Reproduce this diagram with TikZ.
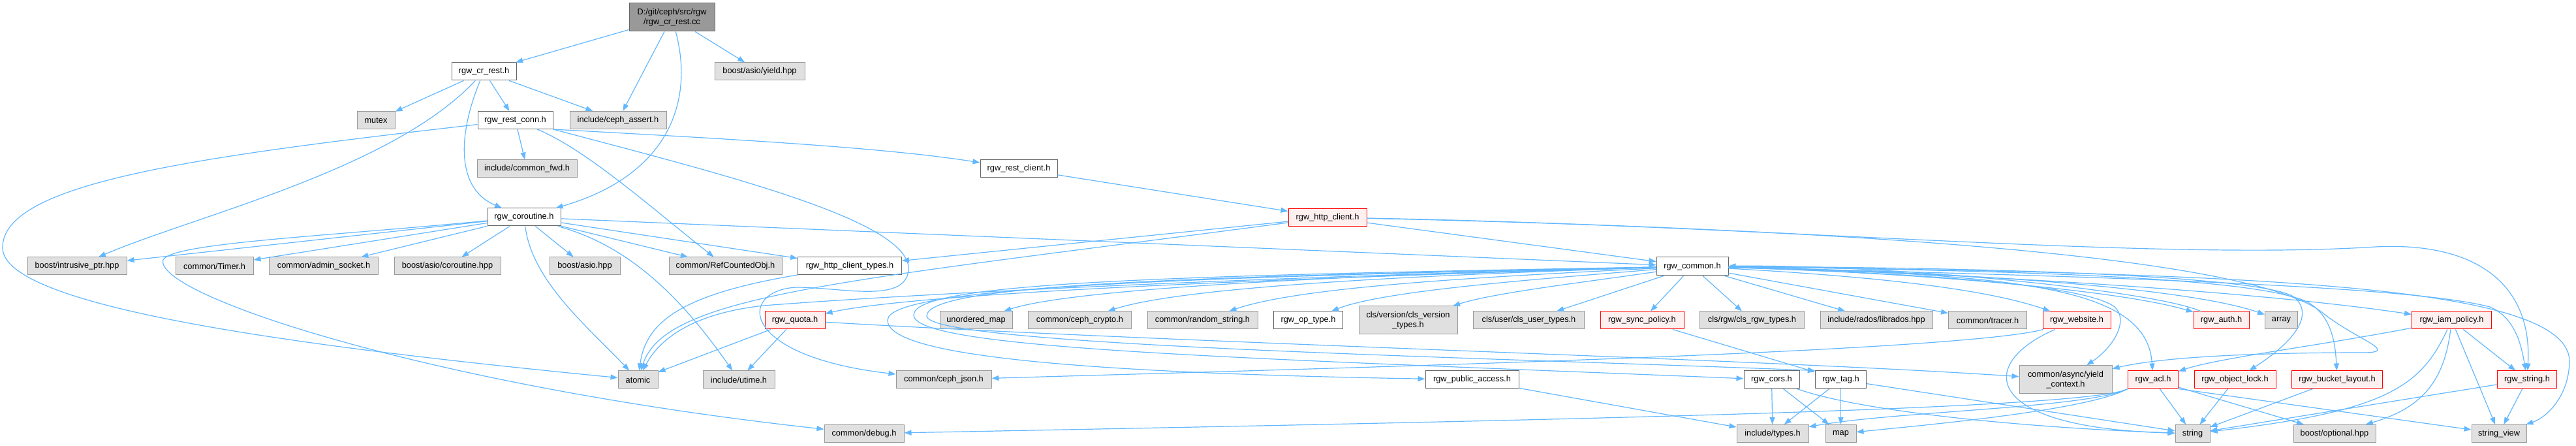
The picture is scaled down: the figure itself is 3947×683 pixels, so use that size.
\documentclass[tikz,border=0pt]{standalone}
\usepackage{fontspec}
\setmainfont{Liberation Sans}
\usepackage{tikz}
\usetikzlibrary{arrows.meta,positioning}
\usepackage{xcolor}

\definecolor{depblue}{HTML}{63B8FF}
\definecolor{sysfill}{HTML}{E0E0E0}
\definecolor{sysline}{HTML}{999999}
\definecolor{srcline}{HTML}{666666}
\definecolor{cutfill}{HTML}{FFF0F0}

\begin{document}
\begin{tikzpicture}[x=0.5pt, y=-0.5pt, font=\fontsize{6.4}{7.5}\selectfont, >={Triangle[length=5.5pt,width=4pt]}, node distance=11.75pt,
    filebox/.style={draw, line width=0.5pt, inner sep=0pt, minimum height=13.5pt, align=center},
    sysbox/.style={filebox, draw=sysline, fill=sysfill},
    srcbox/.style={filebox, draw=srcline, fill=white},
    cutbox/.style={filebox, draw=red, fill=cutfill},
    dep/.style={->, draw=depblue, line width=0.6pt}]
    \fill[white] (0,0) rectangle (3947,683);
    \useasboundingbox (0,0) rectangle (3947,683);

    \node[filebox, draw=srcline, fill=sysline, minimum width=65.5pt, minimum height=21.5pt] (main) at (1029.5,26.5) {D:/git/ceph/src/rgw\\/rgw\_cr\_rest.cc};
    \node[srcbox, minimum width=49.5pt] (crrest) at (741.5,109.5) {rgw\_cr\_rest.h};
    \node[sysbox, minimum width=69pt] (yieldhpp) at (1164,109.5) {boost/asio/yield.hpp};

    \node[sysbox, minimum width=29pt] (mutex) at (576,184) {mutex};
    \node[srcbox, minimum width=57.5pt, right=63pt of mutex] (restconn) {rgw\_rest\_conn.h};
    \node[sysbox, minimum width=74pt, right=12.5pt of restconn] (assert) {include/ceph\_assert.h};

    \node[sysbox, minimum width=76.5pt] (fwd) at (807.5,258.5) {include/common\_fwd.h};
    \node[srcbox, minimum width=59pt] (restclient) at (1561,258.5) {rgw\_rest\_client.h};

    \node[srcbox, minimum width=56pt] (coro) at (803,332.5) {rgw\_coroutine.h};
    \node[cutbox, minimum width=60pt] (httpclient) at (2034,333) {rgw\_http\_client.h};

    \node[sysbox, minimum width=76pt] (intrusive) at (118,407.5) {boost/intrusive\_ptr.hpp};
    \node[sysbox, minimum width=59.5pt, right=37pt of intrusive] (timer) {common/Timer.h};
    \node[sysbox, minimum width=83.5pt, right=of timer] (admin) {common/admin\_socket.h};
    \node[sysbox, minimum width=81.5pt, right=of admin] (asiocoro) {boost/asio/coroutine.hpp};
    \node[sysbox, minimum width=54pt, right=37pt of asiocoro] (asio) {boost/asio.hpp};
    \node[sysbox, minimum width=86.5pt, right=37pt of asio] (refcnt) {common/RefCountedObj.h};
    \node[srcbox, minimum width=79.5pt, right=of refcnt] (httptypes) {rgw\_http\_client\_types.h};
    \node[srcbox, minimum width=55pt, minimum height=14pt] (common) at (2593,408) {rgw\_common.h};

    \node[cutbox, minimum width=46pt] (quota) at (1218,490.5) {rgw\_quota.h};
    \node[sysbox, minimum width=55.5pt, right=87.5pt of quota] (umap) {unordered\_map};
    \node[sysbox, minimum width=79pt, right=of umap] (crypto) {common/ceph\_crypto.h};
    \node[sysbox, minimum width=84.5pt, right=of crypto] (randstr) {common/random\_string.h};
    \node[srcbox, minimum width=53pt, right=of randstr] (optype) {rgw\_op\_type.h};
    \node[sysbox, minimum width=75.5pt, minimum height=21.5pt, right=of optype] (clsver) {cls/version/cls\_version\\\_types.h};
    \node[sysbox, minimum width=85pt, right=of clsver] (clsuser) {cls/user/cls\_user\_types.h};
    \node[cutbox, minimum width=64pt, right=of clsuser] (syncpol) {rgw\_sync\_policy.h};
    \node[sysbox, minimum width=80pt, right=of syncpol] (clsrgw) {cls/rgw/cls\_rgw\_types.h};
    \node[sysbox, minimum width=86pt, right=of clsrgw] (librados) {include/rados/librados.hpp};
    \node[sysbox, minimum width=60pt, right=of librados] (tracer) {common/tracer.h};
    \node[cutbox, minimum width=52pt, right=of tracer] (website) {rgw\_website.h};
    \node[cutbox, minimum width=42.5pt, right=63pt of website] (auth) {rgw\_auth.h};
    \node[sysbox, minimum width=25pt, right=of auth] (array) {array};
    \node[cutbox, minimum width=61pt, right=87pt of array] (iam) {rgw\_iam\_policy.h};

    \node[sysbox, minimum width=30.5pt] (atomic) at (977.5,581.5) {atomic};
    \node[sysbox, minimum width=55pt, right=34pt of atomic] (utime) {include/utime.h};
    \node[sysbox, minimum width=73pt, right=92.5pt of utime] (cephjson) {common/ceph\_json.h};
    \node[srcbox, minimum width=71.5pt] (pubacc) at (2255.5,581.5) {rgw\_public\_access.h};
    \node[srcbox, minimum width=42.5pt] (cors) at (2714.5,581.5) {rgw\_cors.h};
    \node[srcbox, minimum width=39pt, right=of cors] (tag) {rgw\_tag.h};
    \node[sysbox, minimum width=71pt, minimum height=21.5pt] (yieldctx) at (3165,581.5) {common/async/yield\\\_context.h};
    \node[cutbox, minimum width=38.5pt, right=of yieldctx] (acl) {rgw\_acl.h};
    \node[cutbox, minimum width=62.5pt, right=of acl] (objlock) {rgw\_object\_lock.h};
    \node[cutbox, minimum width=69.5pt, right=of objlock] (bucklay) {rgw\_bucket\_layout.h};
    \node[cutbox, minimum width=45.5pt, right=87.5pt of bucklay] (rgwstring) {rgw\_string.h};

    \node[sysbox, minimum width=61pt] (debug) at (1324,664) {common/debug.h};
    \node[sysbox, minimum width=55pt] (types) at (2716,664) {include/types.h};
    \node[sysbox, minimum width=23.5pt, right=12.5pt of types] (map) {map};
    \node[sysbox, minimum width=26.5pt] (string) at (3359.5,664) {string};
    \node[sysbox, minimum width=63pt] (optional) at (3577,664) {boost/optional.hpp};
    \node[sysbox, minimum width=42pt] (strview) at (3829,664) {string\_view};

    \draw[dep] (main) -- (crrest);
    \draw[dep] (main) -- (assert);
    \draw[dep] (main) .. controls (1065,160) and (1020,270) .. (coro);
    \draw[dep] (main) -- (yieldhpp);

    \draw[dep] (crrest) -- (mutex);
    \draw[dep] (crrest) .. controls (600,260) and (300,330) .. (intrusive);
    \draw[dep] (crrest) .. controls (700,210) and (700,290) .. (coro);
    \draw[dep] (crrest) -- (restconn);
    \draw[dep] (crrest) -- (assert);

    \draw[dep] (restconn) .. controls (300,240) and (2,280) .. (4,380) .. controls (6,470) and (450,530) .. (atomic);
    \draw[dep] (restconn) -- (fwd);
    \draw[dep] (restconn) .. controls (900,230) and (1000,320) .. (refcnt);
    \draw[dep] (restconn.south east) .. controls (1100,212) and (1350,225) .. (restclient);
    \draw[dep] (restconn.south east) .. controls (1120,270) and (1400,340) .. (1392,415) .. controls (1385,465) and (1290,440) .. (1220,440) .. controls (1130,445) and (1130,545) .. (cephjson);

    \draw[dep] (restclient) -- (httpclient);

    \draw[dep] (coro) -- (intrusive);
    \draw[dep] (coro) .. controls (500,362) and (262,372) .. (250,398) .. controls (235,450) and (650,590) .. (debug);
    \draw[dep] (coro) -- (timer);
    \draw[dep] (coro) -- (admin);
    \draw[dep] (coro) -- (asiocoro);
    \draw[dep] (coro) .. controls (815,430) and (900,500) .. (atomic);
    \draw[dep] (coro) -- (asio);
    \draw[dep] (coro) .. controls (960,375) and (1040,450) .. (utime);
    \draw[dep] (coro) -- (refcnt);
    \draw[dep] (coro) -- (httptypes);
    \draw[dep] (coro) -- (common);

    \draw[dep] (httpclient) -- (httptypes);
    \draw[dep] (httpclient) .. controls (1300,430) and (1020,450) .. (atomic);
    \draw[dep] (httpclient) -- (common);
    \draw[dep] (httpclient) .. controls (2700,345) and (3300,400) .. (3640,378) .. controls (3800,370) and (3880,440) .. (rgwstring);
    \draw[dep] (httpclient) .. controls (2800,350) and (3450,390) .. (3560,480) .. controls (3610,520) and (3680,540) .. (3620,540) .. controls (3480,540) and (3320,545) .. (yieldctx);

    \draw[dep] (httptypes) .. controls (1050,450) and (990,490) .. (atomic);

    \draw[dep] (quota) -- (atomic);
    \draw[dep] (quota) -- (utime);
    \draw[dep] (quota) .. controls (1800,525) and (2700,550) .. (yieldctx);

    \draw[dep] (common) .. controls (1900,425) and (1400,450) .. (1170,468) .. controls (1060,480) and (1010,520) .. (atomic);
    \draw[dep] (common) .. controls (1900,428) and (1400,450) .. (quota);
    \draw[dep] (common) .. controls (2100,420) and (1650,440) .. (umap);
    \draw[dep] (common) .. controls (2150,422) and (1810,440) .. (crypto);
    \draw[dep] (common) .. controls (2250,425) and (1990,440) .. (randstr);
    \draw[dep] (common) .. controls (2350,428) and (2120,445) .. (optype);
    \draw[dep] (common) .. controls (2430,432) and (2290,448) .. (clsver);
    \draw[dep] (common) -- (clsuser);
    \draw[dep] (common) -- (syncpol);
    \draw[dep] (common) -- (clsrgw);
    \draw[dep] (common) -- (librados);
    \draw[dep] (common) -- (tracer);
    \draw[dep] (common) .. controls (2900,425) and (3050,445) .. (website);
    \draw[dep] (common) .. controls (2950,418) and (3250,445) .. (auth);
    \draw[dep] (common) .. controls (3000,416) and (3350,440) .. (array);
    \draw[dep] (common) .. controls (3000,418) and (3450,445) .. (iam);
    \draw[dep] (common) .. controls (3000,420) and (3200,440) .. (3240,470) .. controls (3262,490) and (3240,530) .. (yieldctx);
    \draw[dep] (common) .. controls (3100,420) and (3290,440) .. (acl);
    \draw[dep] (common) .. controls (3200,410) and (3480,430) .. (3515,455) .. controls (3545,480) and (3520,520) .. (objlock);
    \draw[dep] (common) .. controls (3200,415) and (3450,430) .. (3530,460) .. controls (3570,478) and (3578,520) .. (bucklay);
    \draw[dep] (common) .. controls (3300,425) and (3700,440) .. (3815,470) .. controls (3850,485) and (3862,520) .. (rgwstring);
    \draw[dep] (common) .. controls (3500,418) and (3940,440) .. (3937,555) .. controls (3935,610) and (3900,640) .. (strview);
    \draw[dep] (common) .. controls (1800,425) and (1362,440) .. (1360,490) .. controls (1358,540) and (1600,570) .. (pubacc);
    \draw[dep] (common) .. controls (1800,422) and (1402,432) .. (1400,482) .. controls (1398,535) and (1900,548) .. (cors);
    \draw[dep] (common) .. controls (1800,424) and (1420,436) .. (1420,484) .. controls (1420,530) and (2300,548) .. (tag.north west);

    \draw[dep] (syncpol) -- (tag);
    \draw[dep] (website) .. controls (3000,540) and (2000,565) .. (cephjson);
    \draw[dep] (website) .. controls (3030,555) and (3030,655) .. (string);
    \draw[dep] (auth) .. controls (3300,445) and (2900,405) .. (common);

    \draw[dep] (pubacc) -- (types);
    \draw[dep] (cors) -- (types);
    \draw[dep] (cors) -- (map);
    \draw[dep] (cors) .. controls (2850,630) and (3100,655) .. (string);
    \draw[dep] (tag) -- (types);
    \draw[dep] (tag) -- (map);
    \draw[dep] (tag) -- (string);

    \draw[dep] (acl.south west) .. controls (3200,625) and (2900,630) .. (types);
    \draw[dep] (acl.south west) .. controls (3200,628) and (2960,650) .. (map);
    \draw[dep] (acl.south west) .. controls (3200,628) and (2300,645) .. (debug);
    \draw[dep] (acl) -- (string);
    \draw[dep] (acl) -- (optional);
    \draw[dep] (acl.south east) -- (strview);
    \draw[dep] (objlock) -- (string);
    \draw[dep] (bucklay) -- (string);

    \draw[dep] (iam) .. controls (3550,530) and (3400,548) .. (acl);
    \draw[dep] (iam) .. controls (3710,590) and (3660,630) .. (string);
    \draw[dep] (iam) .. controls (3745,585) and (3710,625) .. (optional);
    \draw[dep] (iam) -- (strview);
    \draw[dep] (iam) -- (rgwstring);
    \draw[dep] (rgwstring) -- (string);
    \draw[dep] (rgwstring) -- (strview);
\end{tikzpicture}
\end{document}
